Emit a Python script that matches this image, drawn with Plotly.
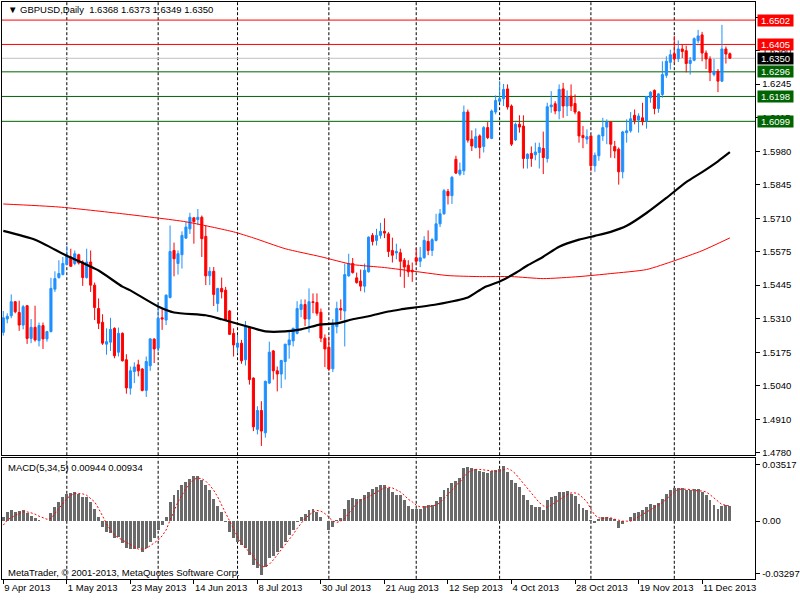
import pandas as pd
import plotly.graph_objects as go

# ---------------- data ----------------
symbol_title = "▼ GBPUSD,Daily  1.6368 1.6373 1.6349 1.6350"
start_date = "2013-04-09"

opens = [
    1.5259, 1.5312, 1.5325, 1.5381, 1.5338, 1.5288, 1.5365, 1.5235, 1.5279, 1.5226,
    1.5286, 1.5233, 1.5262, 1.5431, 1.5477, 1.5489, 1.5529, 1.5559, 1.5533, 1.5568,
    1.5539, 1.5477, 1.5539, 1.5447, 1.5354, 1.5299, 1.5212, 1.5220, 1.5275, 1.5180,
    1.5255, 1.5150, 1.5037, 1.5103, 1.5130, 1.5113, 1.5028, 1.5126, 1.5232, 1.5196,
    1.5317, 1.5308, 1.5398, 1.5585, 1.5533, 1.5568, 1.5634, 1.5671, 1.5715, 1.5708,
    1.5717, 1.5641, 1.5484, 1.5502, 1.5374, 1.5434, 1.5427, 1.5344, 1.5255, 1.5200,
    1.5216, 1.5150, 1.5278, 1.5077, 1.4873, 1.4948, 1.4859, 1.5057, 1.5185, 1.5106,
    1.5093, 1.5143, 1.5209, 1.5225, 1.5255, 1.5350, 1.5370, 1.5312, 1.5381, 1.5378,
    1.5339, 1.5236, 1.5200, 1.5114, 1.5282, 1.5354, 1.5344, 1.5484, 1.5533, 1.5476,
    1.5463, 1.5443, 1.5500, 1.5645, 1.5625, 1.5645, 1.5661, 1.5651, 1.5585, 1.5575,
    1.5576, 1.5546, 1.5526, 1.5506, 1.5556, 1.5542, 1.5556, 1.5621, 1.5585, 1.5625,
    1.5691, 1.5731, 1.5820, 1.5803, 1.5948, 1.5889, 1.5902, 1.6136, 1.6028, 1.5995,
    1.6041, 1.5999, 1.6074, 1.6031, 1.6136, 1.6179, 1.6189, 1.6228, 1.6160, 1.6025,
    1.6087, 1.6080, 1.5951, 1.5971, 1.5966, 1.5975, 1.5991, 1.5951, 1.6157, 1.6169,
    1.6140, 1.6228, 1.6160, 1.6199, 1.6170, 1.6136, 1.6043, 1.6028, 1.6041, 1.5922,
    1.5962, 1.6041, 1.6076, 1.6096, 1.5999, 1.5988, 1.5898, 1.6054, 1.6061, 1.6123,
    1.6104, 1.6113, 1.6100, 1.6193, 1.6222, 1.6150, 1.6206, 1.6282, 1.6334, 1.6368,
    1.6348, 1.6387, 1.6380, 1.6329, 1.6342, 1.6420, 1.6443, 1.6371, 1.6347, 1.6285,
    1.6298, 1.6259, 1.6387, 1.6368,
]
highs = [
    1.5344, 1.5335, 1.5410, 1.5383, 1.5385, 1.5368, 1.5368, 1.5312, 1.5365, 1.5298,
    1.5298, 1.5265, 1.5476, 1.5502, 1.5546, 1.5559, 1.5603, 1.5592, 1.5585, 1.5572,
    1.5546, 1.5592, 1.5585, 1.5457, 1.5394, 1.5331, 1.5275, 1.5317, 1.5279, 1.5278,
    1.5259, 1.5172, 1.5123, 1.5140, 1.5150, 1.5117, 1.5163, 1.5236, 1.5236, 1.5374,
    1.5354, 1.5410, 1.5684, 1.5616, 1.5585, 1.5661, 1.5698, 1.5735, 1.5717, 1.5750,
    1.5724, 1.5684, 1.5519, 1.5519, 1.5436, 1.5477, 1.5440, 1.5348, 1.5275, 1.5249,
    1.5229, 1.5304, 1.5282, 1.5080, 1.4965, 1.4985, 1.5067, 1.5222, 1.5189, 1.5123,
    1.5150, 1.5213, 1.5265, 1.5278, 1.5383, 1.5390, 1.5390, 1.5434, 1.5414, 1.5414,
    1.5354, 1.5251, 1.5242, 1.5312, 1.5381, 1.5390, 1.5533, 1.5572, 1.5555, 1.5497,
    1.5509, 1.5533, 1.5641, 1.5654, 1.5671, 1.5695, 1.5713, 1.5658, 1.5636, 1.5612,
    1.5592, 1.5555, 1.5546, 1.5537, 1.5595, 1.5599, 1.5642, 1.5665, 1.5634, 1.5731,
    1.5750, 1.5830, 1.5830, 1.5882, 1.5962, 1.5935, 1.6162, 1.6146, 1.6063, 1.6071,
    1.6047, 1.6080, 1.6096, 1.6146, 1.6202, 1.6259, 1.6248, 1.6246, 1.6166, 1.6094,
    1.6123, 1.6123, 1.5972, 1.5999, 1.6014, 1.6014, 1.6058, 1.6173, 1.6219, 1.6179,
    1.6246, 1.6252, 1.6222, 1.6246, 1.6206, 1.6140, 1.6080, 1.6067, 1.6043, 1.5975,
    1.6047, 1.6113, 1.6107, 1.6100, 1.6021, 1.5995, 1.6061, 1.6107, 1.6136, 1.6146,
    1.6131, 1.6173, 1.6200, 1.6219, 1.6226, 1.6212, 1.6338, 1.6358, 1.6384, 1.6439,
    1.6421, 1.6404, 1.6400, 1.6355, 1.6433, 1.6463, 1.6455, 1.6381, 1.6358, 1.6347,
    1.6307, 1.6483, 1.6397, 1.6373,
]
lows = [
    1.5246, 1.5295, 1.5315, 1.5335, 1.5265, 1.5271, 1.5213, 1.5216, 1.5222, 1.5203,
    1.5193, 1.5222, 1.5259, 1.5420, 1.5473, 1.5486, 1.5526, 1.5519, 1.5526, 1.5529,
    1.5444, 1.5473, 1.5420, 1.5308, 1.5272, 1.5209, 1.5170, 1.5185, 1.5156, 1.5163,
    1.5143, 1.5015, 1.5011, 1.5057, 1.5084, 1.5024, 1.5002, 1.5106, 1.5137, 1.5183,
    1.5269, 1.5288, 1.5394, 1.5482, 1.5489, 1.5513, 1.5632, 1.5651, 1.5612, 1.5687,
    1.5559, 1.5447, 1.5447, 1.5364, 1.5341, 1.5394, 1.5304, 1.5249, 1.5163, 1.5176,
    1.5134, 1.5127, 1.5051, 1.4866, 1.4853, 1.4807, 1.4840, 1.5053, 1.5071, 1.5024,
    1.5037, 1.5071, 1.5154, 1.5203, 1.5251, 1.5319, 1.5284, 1.5258, 1.5335, 1.5325,
    1.5220, 1.5121, 1.5106, 1.5101, 1.5255, 1.5308, 1.5203, 1.5480, 1.5493, 1.5453,
    1.5423, 1.5418, 1.5497, 1.5605, 1.5605, 1.5632, 1.5634, 1.5559, 1.5537, 1.5550,
    1.5480, 1.5436, 1.5480, 1.5460, 1.5526, 1.5519, 1.5552, 1.5566, 1.5563, 1.5621,
    1.5678, 1.5727, 1.5768, 1.5770, 1.5889, 1.5882, 1.5885, 1.6014, 1.5981, 1.5991,
    1.5951, 1.5975, 1.6028, 1.6028, 1.6127, 1.6175, 1.6160, 1.6146, 1.6001, 1.6021,
    1.6054, 1.5911, 1.5911, 1.5918, 1.5944, 1.5911, 1.5889, 1.5935, 1.6133, 1.6127,
    1.6107, 1.6113, 1.6120, 1.6140, 1.6127, 1.6014, 1.5992, 1.6008, 1.5900, 1.5898,
    1.5942, 1.6021, 1.6008, 1.5954, 1.5952, 1.5847, 1.5872, 1.6014, 1.6054, 1.6087,
    1.6054, 1.6083, 1.6070, 1.6173, 1.6127, 1.6133, 1.6193, 1.6272, 1.6305, 1.6331,
    1.6335, 1.6351, 1.6294, 1.6285, 1.6338, 1.6410, 1.6338, 1.6307, 1.6259, 1.6278,
    1.6215, 1.6255, 1.6329, 1.6349,
]
closes = [
    1.5317, 1.5323, 1.5381, 1.5341, 1.5288, 1.5361, 1.5235, 1.5279, 1.5229, 1.5286,
    1.5233, 1.5262, 1.5434, 1.5473, 1.5493, 1.5533, 1.5563, 1.5522, 1.5572, 1.5535,
    1.5477, 1.5539, 1.5447, 1.5358, 1.5295, 1.5216, 1.5222, 1.5271, 1.5166, 1.5255,
    1.5146, 1.5038, 1.5106, 1.5121, 1.5106, 1.5028, 1.5143, 1.5233, 1.5193, 1.5315,
    1.5312, 1.5407, 1.5581, 1.5552, 1.5572, 1.5645, 1.5678, 1.5717, 1.5700, 1.5717,
    1.5632, 1.5484, 1.5502, 1.5410, 1.5434, 1.5420, 1.5308, 1.5251, 1.5209, 1.5216,
    1.5146, 1.5282, 1.5071, 1.4883, 1.4948, 1.4866, 1.5064, 1.5180, 1.5106, 1.5093,
    1.5147, 1.5212, 1.5229, 1.5275, 1.5354, 1.5370, 1.5312, 1.5381, 1.5378, 1.5335,
    1.5236, 1.5193, 1.5113, 1.5288, 1.5354, 1.5348, 1.5489, 1.5533, 1.5497, 1.5457,
    1.5443, 1.5506, 1.5638, 1.5621, 1.5645, 1.5661, 1.5654, 1.5581, 1.5566, 1.5581,
    1.5542, 1.5519, 1.5500, 1.5500, 1.5542, 1.5556, 1.5625, 1.5585, 1.5628, 1.5691,
    1.5731, 1.5823, 1.5803, 1.5876, 1.5893, 1.5905, 1.6136, 1.6024, 1.6001, 1.6038,
    1.5995, 1.6074, 1.6034, 1.6140, 1.6182, 1.6189, 1.6226, 1.6156, 1.6008, 1.6087,
    1.6076, 1.5951, 1.5968, 1.5951, 1.5977, 1.5995, 1.5955, 1.6157, 1.6164, 1.6140,
    1.6226, 1.6160, 1.6197, 1.6160, 1.6136, 1.6041, 1.6034, 1.6038, 1.5922, 1.5964,
    1.6043, 1.6074, 1.6096, 1.6008, 1.5981, 1.5898, 1.6057, 1.6061, 1.6109, 1.6103,
    1.6120, 1.6098, 1.6197, 1.6215, 1.6150, 1.6208, 1.6285, 1.6338, 1.6364, 1.6348,
    1.6387, 1.6377, 1.6329, 1.6342, 1.6428, 1.6439, 1.6371, 1.6347, 1.6294, 1.6298,
    1.6259, 1.6387, 1.6367, 1.6350,
]

macd_hist = [
    0.0027, 0.0058, 0.0069, 0.0058, 0.0062, 0.0069, 0.0048, 0.0031, 0.0017, 0.0010,
    0.0002, 0.0003, 0.0048, 0.0089, 0.0121, 0.0152, 0.0173, 0.0179, 0.0183, 0.0173,
    0.0152, 0.0152, 0.0121, 0.0079, 0.0027, -0.0035, -0.0067, -0.0077, -0.0108, -0.0098,
    -0.0139, -0.0171, -0.0175, -0.0175, -0.0171, -0.0191, -0.0171, -0.0129, -0.0108, -0.0056,
    -0.0021, 0.0027, 0.0121, 0.0162, 0.0193, 0.0225, 0.0245, 0.0266, 0.0283, 0.0283,
    0.0256, 0.0225, 0.0193, 0.0141, 0.0096, 0.0058, -0.0005, -0.0067, -0.0108, -0.0133,
    -0.0150, -0.0171, -0.0212, -0.0275, -0.0295, -0.0337, -0.0285, -0.0233, -0.0216, -0.0191,
    -0.0171, -0.0129, -0.0087, -0.0056, -0.0004, 0.0027, 0.0042, 0.0069, 0.0075, 0.0058,
    0.0027, 0.0002, -0.0056, -0.0035, 0.0006, 0.0017, 0.0079, 0.0131, 0.0146, 0.0141,
    0.0141, 0.0162, 0.0183, 0.0204, 0.0214, 0.0229, 0.0229, 0.0208, 0.0183, 0.0162,
    0.0162, 0.0131, 0.0096, 0.0079, 0.0073, 0.0073, 0.0096, 0.0100, 0.0104, 0.0125,
    0.0152, 0.0193, 0.0208, 0.0239, 0.0254, 0.0270, 0.0335, 0.0339, 0.0333, 0.0324,
    0.0312, 0.0308, 0.0302, 0.0312, 0.0318, 0.0324, 0.0345, 0.0308, 0.0260, 0.0239,
    0.0214, 0.0162, 0.0131, 0.0100, 0.0089, 0.0089, 0.0069, 0.0131, 0.0152, 0.0156,
    0.0183, 0.0183, 0.0187, 0.0173, 0.0156, 0.0110, 0.0083, 0.0069, 0.0006, -0.0010,
    0.0012, 0.0023, 0.0027, 0.0021, 0.0012, -0.0040, -0.0015, 0.0002, 0.0027, 0.0048,
    0.0058, 0.0069, 0.0089, 0.0110, 0.0104, 0.0116, 0.0141, 0.0173, 0.0193, 0.0208,
    0.0210, 0.0210, 0.0198, 0.0193, 0.0200, 0.0204, 0.0183, 0.0162, 0.0131, 0.0104,
    0.0079, 0.0096, 0.0100, 0.00944,
]
macd_signal = [
    -0.0025, 0.0006, 0.0023, 0.0037, 0.0048, 0.0058, 0.0058, 0.0052, 0.0044, 0.0031,
    0.0021, 0.0012, 0.0017, 0.0048, 0.0079, 0.0114, 0.0141, 0.0162, 0.0173, 0.0173,
    0.0171, 0.0162, 0.0141, 0.0121, 0.0079, 0.0027, -0.0015, -0.0056, -0.0087, -0.0104,
    -0.0119, -0.0133, -0.0150, -0.0164, -0.0175, -0.0175, -0.0171, -0.0154, -0.0139, -0.0119,
    -0.0092, -0.0056, 0.0006, 0.0069, 0.0121, 0.0162, 0.0204, 0.0235, 0.0262, 0.0270,
    0.0266, 0.0250, 0.0225, 0.0193, 0.0152, 0.0100, 0.0048, -0.0004, -0.0056, -0.0098,
    -0.0139, -0.0171, -0.0191, -0.0223, -0.0264, -0.0285, -0.0285, -0.0270, -0.0243, -0.0212,
    -0.0181, -0.0150, -0.0119, -0.0083, -0.0046, -0.0015, 0.0017, 0.0037, 0.0058, 0.0067,
    0.0062, 0.0048, 0.0027, 0.0000, -0.0008, 0.0000, 0.0017, 0.0048, 0.0079, 0.0110,
    0.0131, 0.0141, 0.0152, 0.0166, 0.0183, 0.0196, 0.0208, 0.0212, 0.0208, 0.0193,
    0.0183, 0.0162, 0.0137, 0.0121, 0.0100, 0.0089, 0.0087, 0.0089, 0.0096, 0.0100,
    0.0116, 0.0141, 0.0166, 0.0193, 0.0225, 0.0245, 0.0277, 0.0304, 0.0318, 0.0324,
    0.0324, 0.0320, 0.0316, 0.0312, 0.0312, 0.0314, 0.0324, 0.0329, 0.0318, 0.0297,
    0.0266, 0.0235, 0.0204, 0.0173, 0.0141, 0.0116, 0.0096, 0.0087, 0.0100, 0.0116,
    0.0131, 0.0152, 0.0166, 0.0177, 0.0177, 0.0168, 0.0146, 0.0121, 0.0075, 0.0037,
    0.0021, 0.0017, 0.0021, 0.0021, 0.0012, 0.0006, 0.0000, 0.0000, 0.0000, 0.0012,
    0.0027, 0.0044, 0.0058, 0.0075, 0.0089, 0.0104, 0.0116, 0.0137, 0.0162, 0.0183,
    0.0200, 0.0202, 0.0200, 0.0198, 0.0193, 0.0189, 0.0189, 0.0183, 0.0166, 0.0146,
    0.0125, 0.0104, 0.0100, 0.00934,
]

# moving averages (bar index, value)
ma_black_idx = [0, 8, 16, 24, 30, 32, 39, 43, 51, 55, 64, 66, 71, 75, 80, 84, 88, 92, 97,
                100, 109, 117, 121, 125, 129, 132, 136, 140, 145, 149, 153, 157, 162, 167,
                172, 176, 180, 183]
ma_black_val = [1.5663, 1.5628, 1.5564, 1.5505, 1.5441, 1.5426, 1.5362, 1.5338, 1.5327,
                1.5311, 1.5271, 1.5263, 1.5263, 1.5271, 1.5291, 1.5295, 1.5311, 1.5323,
                1.5342, 1.5350, 1.5370, 1.5398, 1.5437, 1.5461, 1.5495, 1.5525, 1.5560,
                1.5600, 1.5628, 1.5643, 1.5659, 1.5683, 1.5734, 1.5794, 1.5857, 1.5897,
                1.5940, 1.5976]
ma_red_idx = [0, 14, 30, 46, 58, 63, 71, 80, 88, 96, 104, 112, 120, 128, 136, 145, 153,
              162, 169, 176, 183]
ma_red_val = [1.5770, 1.5758, 1.5731, 1.5699, 1.5659, 1.5635, 1.5592, 1.5560, 1.5529,
              1.5517, 1.5501, 1.5485, 1.5481, 1.5481, 1.5473, 1.5481, 1.5493, 1.5509,
              1.5544, 1.5584, 1.5635]

levels_red = [1.6502, 1.6405]
levels_green = [1.6296, 1.6198, 1.6099]
bid_level = 1.6350

price_tick_vals = [1.6513, 1.6380, 1.6247, 1.6113, 1.5980, 1.5847, 1.5713, 1.5580,
                   1.5447, 1.5313, 1.5180, 1.5047, 1.4913, 1.4780]
price_tick_text = ["1.6515", "1.6380", "1.6245", "1.6115", "1.5980", "1.5845", "1.5710",
                   "1.5575", "1.5445", "1.5310", "1.5175", "1.5040", "1.4910", "1.4780"]
macd_tick_vals = [0.03517, 0.0, -0.03297]
macd_tick_text = ["0.03517", "0.00", "-0.03297"]
macd_label = "MACD(5,34,5) 0.00944 0.00934"
copyright_text = "MetaTrader, © 2001-2013, MetaQuotes Software Corp."

# ---------------- build figure ----------------
n = len(closes)
idx = list(range(n))
dates = pd.bdate_range(start_date, periods=n)
date_tick_idx = list(range(0, n, 16))
date_tick_text = [f"{dates[i].day} {dates[i].strftime('%b %Y')}" for i in date_tick_idx]
month_starts = [i for i in range(1, n) if dates[i].month != dates[i - 1].month]

FONT = "Liberation Sans"
FS = 9.5
W, H = 800, 600
x_dom = [2 / W, 761 / W]
main_dom = [1 - 457.5 / H, 1 - 2 / H]
macd_dom = [1 - 581.7 / H, 1 - 460.7 / H]
bull, bear = "#1E90FF", "#FF0000"

fig = go.Figure()
fig.add_trace(go.Candlestick(
    x=idx, open=opens, high=highs, low=lows, close=closes,
    xaxis="x2", yaxis="y", whiskerwidth=0, showlegend=False, hoverinfo="skip",
    increasing=dict(line=dict(color=bull, width=1), fillcolor=bull),
    decreasing=dict(line=dict(color=bear, width=1), fillcolor=bear),
))
fig.add_trace(go.Scatter(x=ma_red_idx, y=ma_red_val, xaxis="x2", yaxis="y", mode="lines",
                         line=dict(color="#FF0000", width=1, shape="spline", smoothing=0.6),
                         showlegend=False, hoverinfo="skip"))
fig.add_trace(go.Scatter(x=ma_black_idx, y=ma_black_val, xaxis="x2", yaxis="y", mode="lines",
                         line=dict(color="#000000", width=2.2, shape="spline", smoothing=0.6),
                         showlegend=False, hoverinfo="skip"))
fig.add_trace(go.Bar(x=idx, y=macd_hist, xaxis="x", yaxis="y2", width=0.74,
                     marker=dict(color="#6A6A6A", line=dict(width=0)),
                     showlegend=False, hoverinfo="skip"))
fig.add_trace(go.Scatter(x=idx, y=macd_signal, xaxis="x", yaxis="y2", mode="lines",
                         line=dict(color="#FF0000", width=1, dash="2px,2px"),
                         showlegend=False, hoverinfo="skip"))

shapes = []
for i in month_starts:
    for yr in ("y domain", "y2 domain"):
        shapes.append(dict(type="line", xref="x", yref=yr, x0=i, x1=i, y0=0, y1=1,
                           line=dict(color="black", width=1, dash="3px,2px"), layer="below"))
for lv in levels_red:
    shapes.append(dict(type="line", xref="paper", yref="y", x0=x_dom[0], x1=x_dom[1],
                       y0=lv, y1=lv, line=dict(color="#FF0000", width=1), layer="below"))
for lv in levels_green:
    shapes.append(dict(type="line", xref="paper", yref="y", x0=x_dom[0], x1=x_dom[1],
                       y0=lv, y1=lv, line=dict(color="#006400", width=1), layer="below"))
shapes.append(dict(type="line", xref="paper", yref="y", x0=x_dom[0], x1=x_dom[1],
                   y0=bid_level, y1=bid_level, line=dict(color="#C0C0C0", width=1), layer="below"))

annotations = []
def level_label(val, bg):
    annotations.append(dict(xref="paper", yref="y", x=763 / W, y=val, xanchor="left",
                            yanchor="middle", text=f"{val:.4f}", showarrow=False,
                            bgcolor=bg, width=35, height=11, borderpad=0,
                            font=dict(family=FONT, size=FS, color="white")))
for lv in levels_red:
    level_label(lv, "#FF0000")
level_label(bid_level, "#000000")
for lv in levels_green:
    level_label(lv, "#006400")

annotations.append(dict(xref="paper", yref="paper", x=6 / W, y=1 - 10 / H, xanchor="left",
                        yanchor="middle", text=symbol_title, showarrow=False,
                        font=dict(family=FONT, size=FS, color="black")))
annotations.append(dict(xref="paper", yref="paper", x=6 / W, y=1 - 470 / H, xanchor="left",
                        yanchor="middle", text=macd_label, showarrow=False,
                        font=dict(family=FONT, size=FS, color="black")))
annotations.append(dict(xref="paper", yref="paper", x=6 / W, y=1 - 575 / H, xanchor="left",
                        yanchor="middle", text=copyright_text, showarrow=False,
                        font=dict(family=FONT, size=FS, color="black")))

axis_font = dict(family=FONT, size=FS, color="black")
fig.update_layout(
    width=W, height=H, margin=dict(l=0, r=0, t=0, b=0),
    paper_bgcolor="white", plot_bgcolor="white", showlegend=False,
    bargap=0, boxgap=0.25, hovermode=False,
    xaxis=dict(domain=x_dom, anchor="y2", range=[-0.33, 189.4], tickmode="array",
               tickvals=date_tick_idx, ticktext=date_tick_text, ticks="outside", ticklen=4,
               tickcolor="black", ticklabelposition="outside right", showgrid=False,
               zeroline=False, showline=True, linecolor="black", linewidth=1, mirror=True,
               tickfont=axis_font, rangeslider=dict(visible=False)),
    xaxis2=dict(domain=x_dom, anchor="y", matches="x", showticklabels=False, ticks="",
                showgrid=False, zeroline=False, showline=True, linecolor="black",
                linewidth=1, mirror=True, rangeslider=dict(visible=False)),
    yaxis=dict(domain=main_dom, anchor="x2", side="right", range=[1.4770, 1.6574],
               tickmode="array", tickvals=price_tick_vals, ticktext=price_tick_text,
               ticks="outside", ticklen=4, tickcolor="black", showgrid=False, zeroline=False,
               showline=True, linecolor="black", linewidth=1, mirror=True, tickfont=axis_font),
    yaxis2=dict(domain=macd_dom, anchor="x", side="right", range=[-0.0361, 0.0393],
                tickmode="array", tickvals=macd_tick_vals, ticktext=macd_tick_text,
                ticks="outside", ticklen=4, tickcolor="black", showgrid=False, zeroline=False,
                showline=True, linecolor="black", linewidth=1, mirror=True, tickfont=axis_font),
    shapes=shapes, annotations=annotations,
)

fig.write_html("out.html", config={"displayModeBar": False, "staticPlot": True},
               post_script="document.body.style.margin='0px';")
